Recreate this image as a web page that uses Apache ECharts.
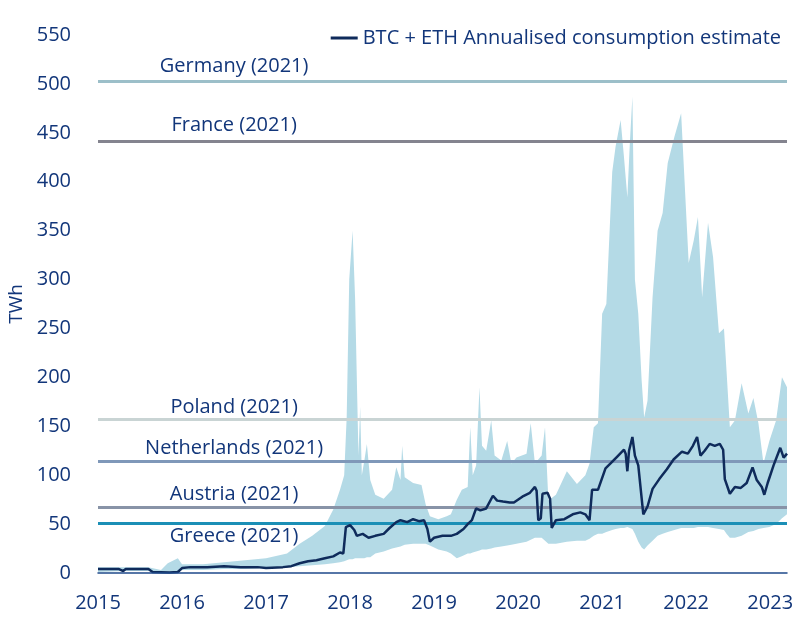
<!DOCTYPE html>
<html>
<head>
<meta charset="utf-8">
<script src="https://cdn.jsdelivr.net/npm/echarts@6/dist/echarts.min.js"></script>
<style>
html,body{margin:0;padding:0;background:#fff;}
#chart{width:800px;height:644px;}
</style>
</head>
<body>
<div id="chart"></div>
<script>
// ---- data ----
var seriesName = 'BTC + ETH Annualised consumption estimate';
var yearTicks = [2015, 2016, 2017, 2018, 2019, 2020, 2021, 2022, 2023];

// estimate line (decimal year, TWh)
var lineX = [2015.00,2015.25,2015.30,2015.33,2015.60,2015.65,2015.85,2015.95,2016.00,2016.10,2016.30,2016.50,2016.70,2016.90,2017.00,2017.20,2017.30,2017.40,2017.50,2017.60,2017.70,2017.80,2017.88,2017.92,2017.95,2018.00,2018.05,2018.08,2018.15,2018.22,2018.30,2018.40,2018.47,2018.55,2018.60,2018.68,2018.75,2018.82,2018.88,2018.92,2018.95,2019.00,2019.10,2019.20,2019.27,2019.35,2019.40,2019.45,2019.50,2019.55,2019.62,2019.70,2019.75,2019.82,2019.90,2019.95,2020.05,2020.14,2020.20,2020.22,2020.24,2020.27,2020.29,2020.35,2020.38,2020.40,2020.45,2020.55,2020.65,2020.74,2020.80,2020.85,2020.88,2020.95,2021.04,2021.10,2021.18,2021.26,2021.28,2021.30,2021.32,2021.36,2021.39,2021.43,2021.49,2021.54,2021.60,2021.68,2021.77,2021.85,2021.95,2022.02,2022.08,2022.13,2022.17,2022.22,2022.28,2022.34,2022.40,2022.44,2022.46,2022.52,2022.58,2022.65,2022.72,2022.79,2022.84,2022.90,2022.93,2022.97,2023.04,2023.12,2023.16,2023.20];
var lineY = [4,4,2,4,4,1,0.5,1,5,6,6,7,6,6,5,6,7,10,12,13,15,17,21,20,47,49,44,38,40,36,38,40,46,52,54,52,55,53,54,45,32,36,38,38,40,45,50,54,66,64,66,79,74,73,72,72,78,82,88,84,54,56,81,82,76,46,54,55,60,62,60,54,85,85,107,112,119,126,122,104,125,139,120,110,60,68,86,96,106,116,124,122,130,139,120,125,132,130,132,126,96,81,88,87,92,108,95,88,80,92,110,128,118,122];

// uncertainty band (decimal year, lower, upper)
var bandX = [2015.00,2015.30,2015.60,2015.75,2015.83,2015.95,2016.00,2016.25,2016.50,2016.75,2017.00,2017.25,2017.40,2017.55,2017.70,2017.80,2017.88,2017.93,2017.96,2017.99,2018.03,2018.06,2018.09,2018.10,2018.12,2018.14,2018.17,2018.20,2018.24,2018.30,2018.40,2018.50,2018.55,2018.60,2018.62,2018.65,2018.75,2018.85,2018.90,2018.95,2019.05,2019.15,2019.20,2019.27,2019.33,2019.40,2019.43,2019.46,2019.50,2019.54,2019.57,2019.62,2019.68,2019.72,2019.80,2019.87,2019.92,2019.98,2020.10,2020.15,2020.20,2020.28,2020.32,2020.36,2020.45,2020.58,2020.70,2020.80,2020.85,2020.90,2020.95,2021.00,2021.05,2021.12,2021.16,2021.22,2021.26,2021.30,2021.33,2021.36,2021.39,2021.43,2021.47,2021.50,2021.54,2021.60,2021.66,2021.72,2021.78,2021.86,2021.94,2021.97,2022.03,2022.09,2022.14,2022.19,2022.26,2022.32,2022.39,2022.45,2022.48,2022.52,2022.58,2022.66,2022.74,2022.80,2022.86,2022.92,2022.99,2023.07,2023.14,2023.20];
var bandLow = [1,2,2,0.5,0,2,3,3,4,4,5,6,7,8,9,10,11,12,13,14,14,15,15,15,15,15,15,16,16,20,22,25,26,27,28,29,30,30,30,28,24,22,20,15,17,20,20,21,22,23,24,24,25,26,27,28,29,30,32,34,36,36,33,30,30,32,33,33,35,38,40,40,42,44,45,46,46,47,46,45,40,32,26,24,28,33,38,40,42,44,46,46,46,46,47,47,47,46,45,44,40,36,36,38,42,43,45,46,47,50,56,60];
var bandHigh = [6,6,6,3,10,15,9,9,11,13,15,20,30,38,48,65,85,100,160,300,350,280,160,120,170,100,115,132,95,80,76,85,108,95,130,98,92,90,70,58,55,58,60,75,85,88,149,100,110,190,130,125,156,120,115,135,112,118,122,153,112,120,149,74,80,104,91,100,112,149,153,265,275,410,436,463,425,384,440,487,300,265,197,159,176,282,350,368,419,446,470,419,317,340,364,282,358,323,245,250,207,149,156,194,163,179,153,112,135,156,200,190];

// 2021 national consumption references
var countryNames = ['Germany (2021)', 'France (2021)', 'Poland (2021)', 'Netherlands (2021)', 'Austria (2021)', 'Greece (2021)'];
var countryValues = [503, 441, 157, 114, 67, 51];

// ---- styles ----
var navy = '#12367a';
var countryColors = ['#9cbfc9', '#84848f', '#c9d4d4', '#7f98b9', '#8893a7', '#1b8fb6'];
var labelPos = ['top', 'top', 'top', 'top', 'top', 'bottom'];
var labelDist = [5, 6, 2, 3, 3, 3];
var labelYear = 2016.62;
var fontFam = '"Open Sans", Lato, sans-serif';

var lineData = lineX.map(function (x, i) { return [x, lineY[i]]; });
var lowData = bandX.map(function (x, i) { return [x, bandLow[i]]; });
var highData = bandX.map(function (x, i) { return [x, bandHigh[i]]; });

var markLines = countryValues.map(function (v, i) {
  return { yAxis: v, lineStyle: { color: countryColors[i], width: 3, type: 'solid', opacity: 1 } };
});
var labelPts = countryValues.map(function (v, i) {
  return {
    value: [labelYear, v],
    name: countryNames[i],
    label: { position: labelPos[i], distance: labelDist[i] }
  };
});

var chart = echarts.init(document.getElementById('chart'), null, { renderer: 'canvas' });
chart.setOption({
  animation: false,
  backgroundColor: '#ffffff',
  textStyle: { fontFamily: fontFam },
  grid: { left: 98, right: 13, top: 35, bottom: 71, containLabel: false, outerBoundsMode: 'none' },
  legend: {
    data: [{ name: seriesName, icon: 'rect' }],
    right: 14, top: 23,
    itemWidth: 27, itemHeight: 3, itemGap: 6,
    textStyle: { color: navy, fontSize: 20, fontFamily: fontFam }
  },
  xAxis: {
    type: 'value', min: 2015, max: 2023.2, interval: 1, z: 10,
    axisLine: { show: true, lineStyle: { color: '#1f4a8a', width: 1.5 } },
    axisTick: { show: false },
    splitLine: { show: false },
    axisLabel: {
      color: navy, fontSize: 20, margin: 20, showMaxLabel: false,
      formatter: function (v) { return yearTicks.indexOf(Math.round(v)) >= 0 && Math.abs(v - Math.round(v)) < 1e-6 ? String(Math.round(v)) : ''; }
    }
  },
  yAxis: {
    type: 'value', min: 0, max: 550, interval: 50,
    name: 'TWh', nameLocation: 'middle', nameGap: 72, nameRotate: 90,
    nameTextStyle: { color: navy, fontSize: 19 },
    axisLine: { show: false }, axisTick: { show: false },
    splitLine: { show: false },
    axisLabel: { color: navy, fontSize: 20, margin: 27 }
  },
  series: [
    {
      name: 'upper', type: 'line', data: highData,
      symbol: 'none', lineStyle: { width: 0, opacity: 0 },
      areaStyle: { color: '#b4dae6', opacity: 1 }, z: 1, silent: true
    },
    {
      name: 'lower', type: 'line', data: lowData,
      symbol: 'none', lineStyle: { width: 0, opacity: 0 },
      areaStyle: { color: '#ffffff', opacity: 1 }, z: 1, silent: true
    },
    {
      name: 'refs', type: 'scatter', data: labelPts, symbolSize: 0, z: 2, silent: true,
      itemStyle: { opacity: 1 },
      label: {
        show: true, formatter: '{b}', color: navy, opacity: 1, fontSize: 20, fontFamily: fontFam, align: 'center',
        textBorderWidth: 0
      },
      markLine: { symbol: ['none', 'none'], silent: true, label: { show: false }, data: markLines, z: 2 }
    },
    {
      name: seriesName, type: 'line', data: lineData, symbol: 'none', z: 3,
      lineStyle: { color: '#0f2b5b', width: 2.5 }, itemStyle: { color: '#0f2b5b' }
    }
  ]
});
</script>
</body>
</html>
